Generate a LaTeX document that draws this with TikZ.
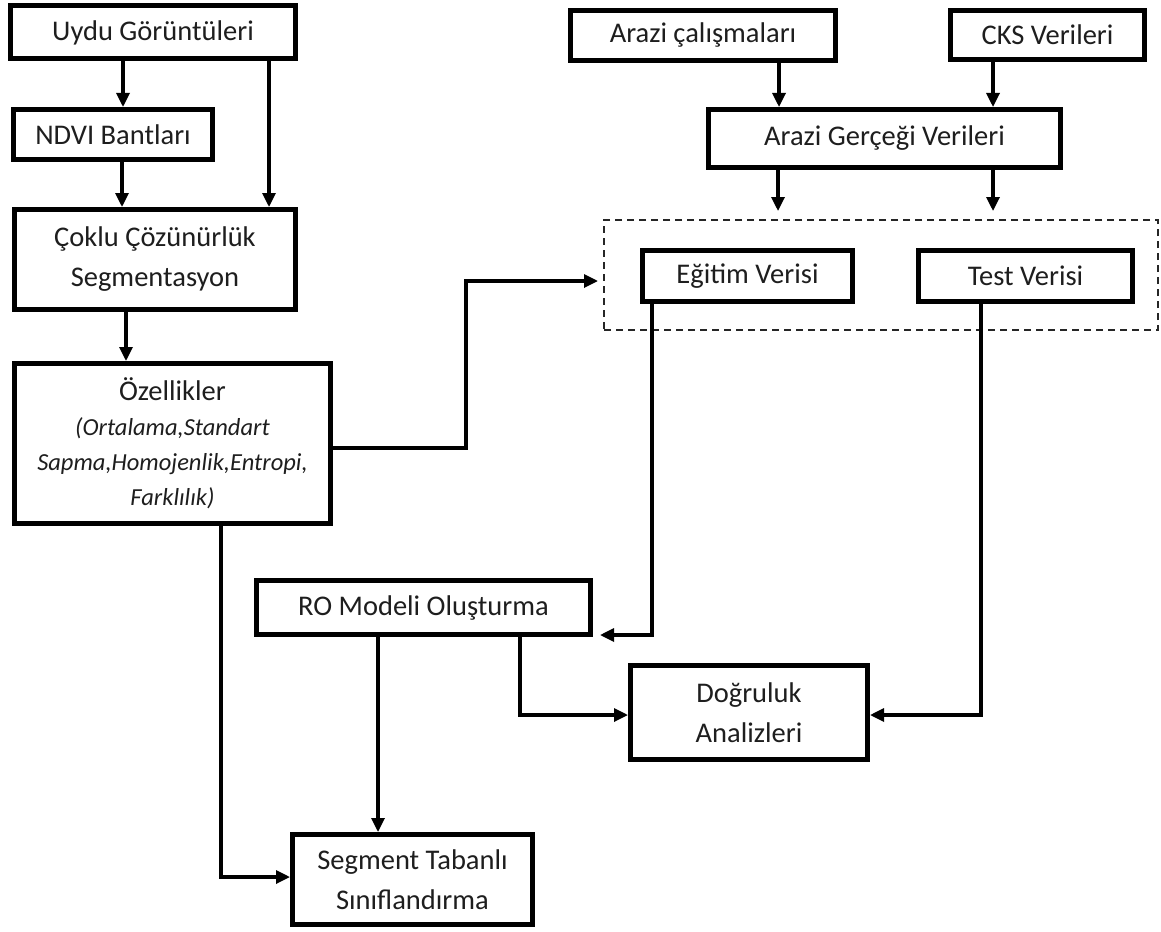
\documentclass[tikz,border=0pt]{standalone}
\usepackage{fontspec}
\setmainfont{Carlito}
\usetikzlibrary{arrows.meta}
\definecolor{txt}{HTML}{1E1E1E}
\tikzset{
  box/.style={draw=black, line width=5pt, text=txt, align=center, inner sep=0pt,
    font=\fontsize{28.5}{40}\selectfont},
  conn/.style={line width=3.2pt, line join=miter, -{Triangle[length=14pt,width=13pt]}},
  group/.style={draw=black!85, line width=1.8pt, dash pattern=on 7pt off 5pt, inner sep=0pt},
}
\begin{document}
\begin{tikzpicture}[x=1pt,y=-1pt]
\useasboundingbox[fill=white] (0,0) rectangle (1161,931);

% left column
\node[box, minimum width=285, minimum height=53] (uydu) at (153,32.5) {Uydu Görüntüleri};
\node[box, minimum width=199, minimum height=50] (ndvi) at (113,134.5) {NDVI Bantları};
\node[box, minimum width=281, minimum height=100] (coklu) at (155,259.5) {Çoklu Çözünürlük\\Segmentasyon};
\node[box, minimum width=316, minimum height=160, font=\fontsize{28.5}{35}\selectfont] (ozel) at (172.5,443.5)
  {Özellikler\\{\fontsize{24.5}{35}\selectfont\itshape (Ortalama,Standart}\\{\fontsize{24.5}{35}\selectfont\itshape Sapma,Homojenlik,Entropi,}\\{\fontsize{24.5}{35}\selectfont\itshape Farklılık)}};

% right column
\node[box, minimum width=265, minimum height=50] (arazi) at (703,35.5) {Arazi çalışmaları};
\node[box, minimum width=194, minimum height=49] (cks) at (1047.5,35) {CKS Verileri};
\node[box, minimum width=352, minimum height=58] (gercek) at (884.5,138.5) {Arazi Gerçeği Verileri};
\node[group, minimum width=554, minimum height=110] (grp) at (881,275) {};
\node[box, minimum width=210, minimum height=51] (egitim) at (747.5,276) {Eğitim Verisi};
\node[box, minimum width=214, minimum height=51] (test) at (1025.5,276) {Test Verisi};

% lower part
\node[box, minimum width=334, minimum height=54] (ro) at (423.5,607.5) {RO Modeli Oluşturma};
\node[box, minimum width=237, minimum height=94] (dogru) at (749,712.5) {Doğruluk\\Analizleri};
\node[box, minimum width=240, minimum height=90] (seg) at (412.5,879.5) {Segment Tabanlı\\Sınıflandırma};

% free ends
\coordinate (grpin) at (598,281);
\coordinate (grptopA) at (778,211);
\coordinate (grptopB) at (993,211);
\coordinate (roin) at (600,635);

% connectors
\draw[conn] (123,0 |- uydu.south) -- (123,0 |- ndvi.north);
\draw[conn] (269,0 |- uydu.south) -- (269,0 |- coklu.north);
\draw[conn] (122,0 |- ndvi.south) -- (122,0 |- coklu.north);
\draw[conn] (126,0 |- coklu.south) -- (126,0 |- ozel.north);
\draw[conn] (0,448 -| ozel.east) -- (466,448) -- (466,281) -- (grpin);

\draw[conn] (779,0 |- arazi.south) -- (779,0 |- gercek.north);
\draw[conn] (993,0 |- cks.south) -- (993,0 |- gercek.north);
\draw[conn] (778,0 |- gercek.south) -- (grptopA);
\draw[conn] (993,0 |- gercek.south) -- (grptopB);

\draw[conn] (652,0 |- egitim.south) -- (652,635) -- (roin);
\draw[conn] (981,0 |- test.south) -- (981,715) -- (0,715 -| dogru.east);
\draw[conn] (520,0 |- ro.south) -- (520,715) -- (0,715 -| dogru.west);
\draw[conn] (378,0 |- ro.south) -- (378,0 |- seg.north);
\draw[conn] (221,0 |- ozel.south) -- (221,877) -- (0,877 -| seg.west);
\end{tikzpicture}
\end{document}
